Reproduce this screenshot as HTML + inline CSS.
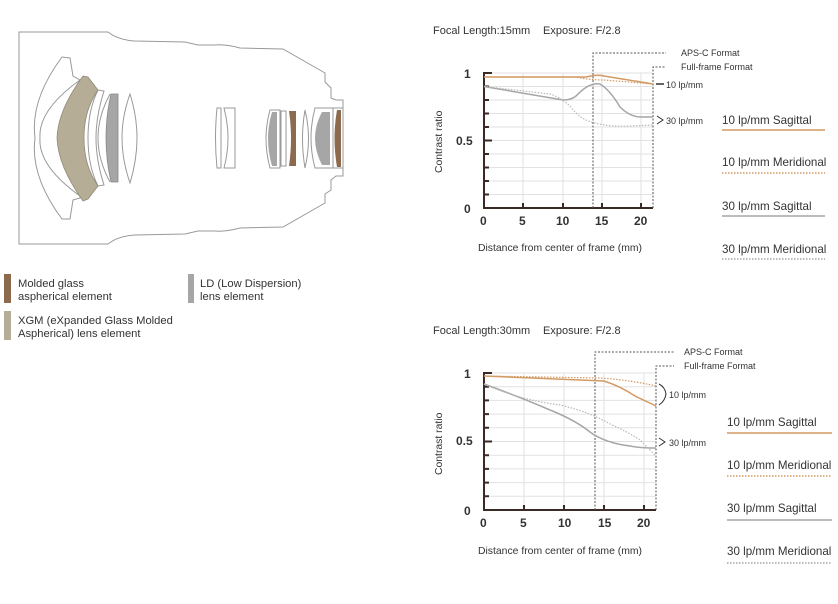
<!DOCTYPE html>
<html><head><meta charset="utf-8"><style>
html,body{margin:0;padding:0;background:#fff;width:838px;height:604px;overflow:hidden}
svg{display:block;font-family:"Liberation Sans",Arial,sans-serif}
</style></head><body>
<svg width="838" height="604" viewBox="0 0 838 604" xmlns="http://www.w3.org/2000/svg">
<!-- Lens body -->
<g fill="none" stroke="#999" stroke-width="1">
<path d="M19,32 L108,32 Q118,40 135,41 L185,42 L198,45 L214,45 Q225,44 240,48 L283,49 L325,73 L325,82 L331,88 L331,98 L336,100 L343,100 L343,176 L336,176 L331,180 L331,190 L325,194 L325,203 L283,227 L240,228 Q225,232 214,231 L198,231 L185,234 L135,235 Q118,236 108,244 L19,244 Z"/>
<path d="M70,58 L62,57 Q30,100 35,138 Q30,176 62,219 L70,219 L73,200 L80,198 L80,80 L73,76 Z"/>
<path d="M80,80 Q38,110 40,138 Q38,166 80,196"/>
<path d="M98,90 Q88,110 88,138 Q88,166 98,186 L104,185 Q96,160 96,138 Q96,116 104,91 Z"/>
<path d="M110,94 Q98,116 98,138 Q98,160 110,182"/>
<path d="M130,94 Q122,116 122,138 Q122,160 130,183 Q137,160 137,138 Q137,116 130,94 Z"/>
<path d="M217,108 L221,108 L221,168 L217,168 Q214,138 217,108 Z"/>
<path d="M224,108 L235,108 L235,168 L224,168 Q232,138 224,108 Z"/>
<path d="M270,110 Q262,138 270,168 L280,168 L280,110 Z"/>
<path d="M281,111 L286,111 L286,166 L281,166 Z"/>
<path d="M305,110 Q300,138 305,168 Q312,138 305,110 Z"/>
<path d="M315,108 Q307,138 315,168 L333,168 L333,108 Z"/>
<path d="M333,108 L343,108 L343,168 L333,168 Z"/>
</g>
<path d="M83,76 L88,77 L98,90 Q84,110 84,138 Q84,166 98,186 L88,199 L83,201 Q58,166 57,138 Q58,110 83,76 Z" fill="#b5ad96" stroke="#8f8a78" stroke-width="0.8"/>
<path d="M111,94 L118,94 L118,182 L111,182 Q106,160 106,138 Q106,116 111,94 Z" fill="#a6a6a6" stroke="#888" stroke-width="0.8"/>
<path d="M272,112 L277,112 L277,166 L272,166 Q264,138 272,112 Z" fill="#a6a6a6"/>
<path d="M289,111 L296,111 L296,166 L289,166 Q293,138 289,111 Z" fill="#8b6a4e"/>
<path d="M322,112 L330,112 L330,165 L322,165 Q308,138 322,112 Z" fill="#a6a6a6"/>
<path d="M337,110 L341,110 L341,167 L337,167 Q332,138 337,110 Z" fill="#8b6a4e"/>
<!-- legend -->
<rect x="4" y="274" width="7" height="29" fill="#8b6a4e"/>
<rect x="4" y="311" width="7" height="29" fill="#b5ad96"/>
<rect x="188" y="274" width="6" height="29" fill="#a6a6a6"/>
<g font-size="11.2" fill="#333">
<text x="18" y="287">Molded glass</text><text x="18" y="300">aspherical element</text>
<text x="18" y="324">XGM (eXpanded Glass Molded</text><text x="18" y="337">Aspherical) lens element</text>
<text x="200" y="287">LD (Low Dispersion)</text><text x="200" y="300">lens element</text>
</g>

<!-- Chart 1 -->
<g font-size="11" fill="#333">
<text x="433" y="34">Focal Length:15mm</text><text x="543" y="34">Exposure: F/2.8</text>
</g>
<g stroke="#e2e2e2" stroke-width="1" fill="none">
<path d="M484,86.5H653M484,100H653M484,113.5H653M484,127H653M484,140.5H653M484,154H653M484,167.5H653M484,181H653M484,194.5H653M484,73H653"/>
<path d="M523,73V208M563,73V208M602,73V208M641,73V208"/>
</g>
<g stroke="#3a2a25" stroke-width="2" fill="none">
<path d="M484,72V208H653"/>
<path d="M484,73h8M484,86.5h5M484,100h5M484,113.5h5M484,127h5M484,140.5h8M484,154h5M484,167.5h5M484,181h5M484,194.5h5M523,208v-5M563,208v-5M602,208v-5M641,208v-5"/>
</g>
<g stroke="#555" stroke-width="1" stroke-dasharray="2,1.5" fill="none">
<path d="M593,208V53H666"/><path d="M653,208V67H666"/>
</g>
<g fill="none" stroke-width="1.5">
<path d="M484,77 L586,77 Q598,74 604,76 L653,84" stroke="#d39a63"/>
<path d="M484,77 L575,77 Q590,80 604,80 L653,84" stroke="#d39a63" stroke-dasharray="1.5,1.5" stroke-width="1.2"/>
<path d="M484,86.5 L563,100 Q573,100 578,94 Q590,82 600,84 Q610,90 620,107 Q630,117 641,117 L653,117" stroke="#a6a6a6"/>
<path d="M484,86.5 L550,94 Q560,97 570,106 Q580,120 595,123 Q610,127 630,126 L653,125" stroke="#b8b8b8" stroke-dasharray="1.5,1.5" stroke-width="1.2"/>
</g>
<g font-size="9" fill="#333">
<text x="681" y="56">APS-C Format</text><text x="681" y="70">Full-frame Format</text>
<text x="666" y="88">10 lp/mm</text><text x="666" y="124">30 lp/mm</text>
</g>
<path d="M656,84H664" stroke="#333" stroke-width="1.5"/>
<path d="M657,116L663,120L657,124" stroke="#333" fill="none"/>
<g font-size="12" fill="#333" font-weight="bold">
<text x="480" y="225">0</text><text x="519" y="225">5</text><text x="556" y="225">10</text><text x="595" y="225">15</text><text x="634" y="225">20</text>
<text x="464" y="78">1</text><text x="456" y="145">0.5</text><text x="464" y="213">0</text>
</g>
<text font-size="10.4" fill="#333" x="478" y="251">Distance from center of frame (mm)</text>
<text font-size="10.4" fill="#333" transform="translate(442,173) rotate(-90)">Contrast ratio</text>

<!-- Chart 2 -->
<g font-size="11" fill="#333">
<text x="433" y="334">Focal Length:30mm</text><text x="543" y="334">Exposure: F/2.8</text>
</g>
<g stroke="#e2e2e2" stroke-width="1" fill="none">
<path d="M484,373H656M484,386.7H656M484,400.4H656M484,414.1H656M484,427.8H656M484,441.5H656M484,455.2H656M484,468.9H656M484,482.6H656M484,496.3H656"/>
<path d="M524,373V510M564,373V510M604,373V510M644,373V510"/>
</g>
<g stroke="#3a2a25" stroke-width="2" fill="none">
<path d="M484,372V510H656"/>
<path d="M484,373h8M484,386.7h5M484,400.4h5M484,414.1h5M484,427.8h5M484,441.5h8M484,455.2h5M484,468.9h5M484,482.6h5M484,496.3h5M524,510v-5M564,510v-5M604,510v-5M644,510v-5"/>
</g>
<g stroke="#555" stroke-width="1" stroke-dasharray="2,1.5" fill="none">
<path d="M595,510V352H674"/><path d="M656,510V366H674"/>
</g>
<g fill="none" stroke-width="1.5">
<path d="M484,376 L604,381 Q620,386 635,396 L656,406" stroke="#d39a63"/>
<path d="M484,376 L600,378 Q630,380 656,386" stroke="#d39a63" stroke-dasharray="1.5,1.5" stroke-width="1.2"/>
<path d="M484,384 Q520,397 550,410 Q575,420 590,432 Q605,443 630,446 Q640,448 656,448" stroke="#a6a6a6"/>
<path d="M484,384 Q520,400 560,405 Q590,412 610,424 Q630,433 640,440 Q650,450 656,456" stroke="#b8b8b8" stroke-dasharray="1.5,1.5" stroke-width="1.2"/>
</g>
<g font-size="9" fill="#333">
<text x="684" y="355">APS-C Format</text><text x="684" y="369">Full-frame Format</text>
<text x="669" y="398">10 lp/mm</text><text x="669" y="446">30 lp/mm</text>
</g>
<path d="M659,384Q665,387 666,394Q665,401 659,405" stroke="#333" fill="none"/>
<path d="M659,438L665,442L659,446" stroke="#333" fill="none"/>
<g font-size="12" fill="#333" font-weight="bold">
<text x="480" y="527">0</text><text x="520" y="527">5</text><text x="558" y="527">10</text><text x="598" y="527">15</text><text x="637" y="527">20</text>
<text x="464" y="378">1</text><text x="456" y="445">0.5</text><text x="464" y="515">0</text>
</g>
<text font-size="10.4" fill="#333" x="478" y="554">Distance from center of frame (mm)</text>
<text font-size="10.4" fill="#333" transform="translate(442,475) rotate(-90)">Contrast ratio</text>

<!-- right legends -->
<g font-size="11.6" fill="#333">
<text x="722" y="124">10 lp/mm Sagittal</text><text x="722" y="166">10 lp/mm Meridional</text>
<text x="722" y="210">30 lp/mm Sagittal</text><text x="722" y="253">30 lp/mm Meridional</text>
<text x="727" y="426">10 lp/mm Sagittal</text><text x="727" y="469">10 lp/mm Meridional</text>
<text x="727" y="512">30 lp/mm Sagittal</text><text x="727" y="555">30 lp/mm Meridional</text>
</g>
<g stroke-width="1.5">
<path d="M722,130H825" stroke="#d39a63"/>
<path d="M722,173H825" stroke="#d39a63" stroke-dasharray="1.5,1.5"/>
<path d="M722,216H825" stroke="#a6a6a6"/>
<path d="M722,259H825" stroke="#a6a6a6" stroke-dasharray="1.5,1.5"/>
<path d="M727,433H832" stroke="#d39a63"/>
<path d="M727,476H832" stroke="#d39a63" stroke-dasharray="1.5,1.5"/>
<path d="M727,520H832" stroke="#a6a6a6"/>
<path d="M727,563H832" stroke="#a6a6a6" stroke-dasharray="1.5,1.5"/>
</g>
</svg>
</body></html>
